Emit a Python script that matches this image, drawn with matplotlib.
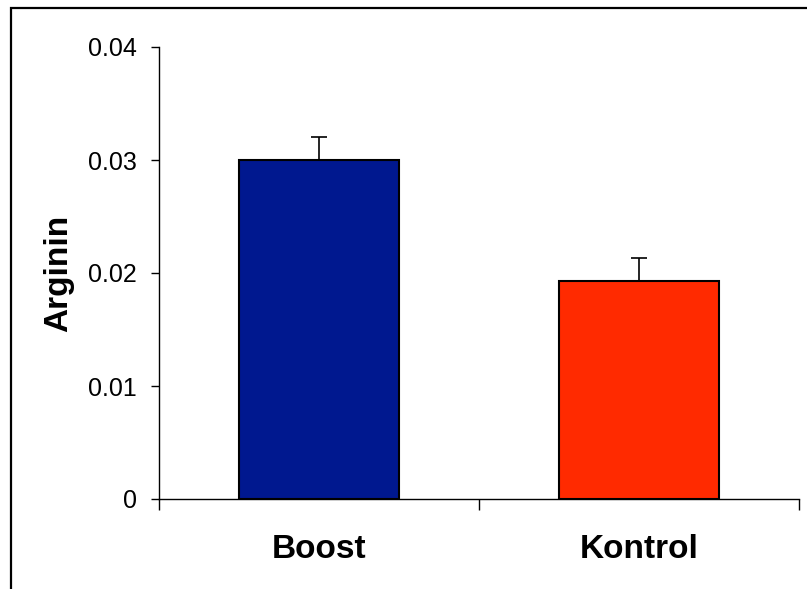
import matplotlib.pyplot as plt
from matplotlib.patches import Rectangle

groups = ['Boost', 'Kontrol']
values = [0.0300, 0.0193]
errors = [0.0020, 0.0020]
colors = ['#00188F', '#FF2A00']
yticks = [0, 0.01, 0.02, 0.03, 0.04]
ytick_labels = ['0', '0.01', '0.02', '0.03', '0.04']

plt.rcParams['font.family'] = 'Liberation Sans'

fig = plt.figure(figsize=(8.07, 5.89), dpi=100)
ax = fig.add_axes([159 / 807, 1 - 499 / 589, 640 / 807, 452 / 589])

x = list(range(len(groups)))
ax.bar(x, values, width=0.5, color=colors, edgecolor='black', linewidth=1.5, zorder=2)
ax.errorbar(x, values, yerr=[[0] * len(errors), errors], fmt='none',
            ecolor='black', elinewidth=1.2, capsize=6, capthick=1.2, zorder=3)

ax.set_xlim(-0.5, 1.5)
ax.set_ylim(0, 0.04)
ax.set_yticks(yticks)
ax.set_yticklabels(ytick_labels)
ax.set_xticks(x)
ax.set_xticklabels(groups, fontsize=24, fontweight='bold')
ax.set_xticks([-0.5, 0.5, 1.5], minor=True)
ax.tick_params(axis='x', which='major', length=0, pad=25)
ax.tick_params(axis='x', which='minor', length=8, width=1, direction='out')
ax.tick_params(axis='y', length=6, width=1, labelsize=18, pad=10)
ax.set_ylabel('Arginin', fontsize=24, fontweight='bold', labelpad=10)

for side in ['top', 'right']:
    ax.spines[side].set_visible(False)
for side in ['left', 'bottom']:
    ax.spines[side].set_linewidth(1)

# outer frame of the original chart, partly cut off
fig.patches.append(Rectangle((11 / 807, -0.1), 1.1, 1.1 - 8 / 589,
                             transform=fig.transFigure, fill=False,
                             edgecolor='black', linewidth=1.6))

plt.savefig('out.png')
plt.close()
